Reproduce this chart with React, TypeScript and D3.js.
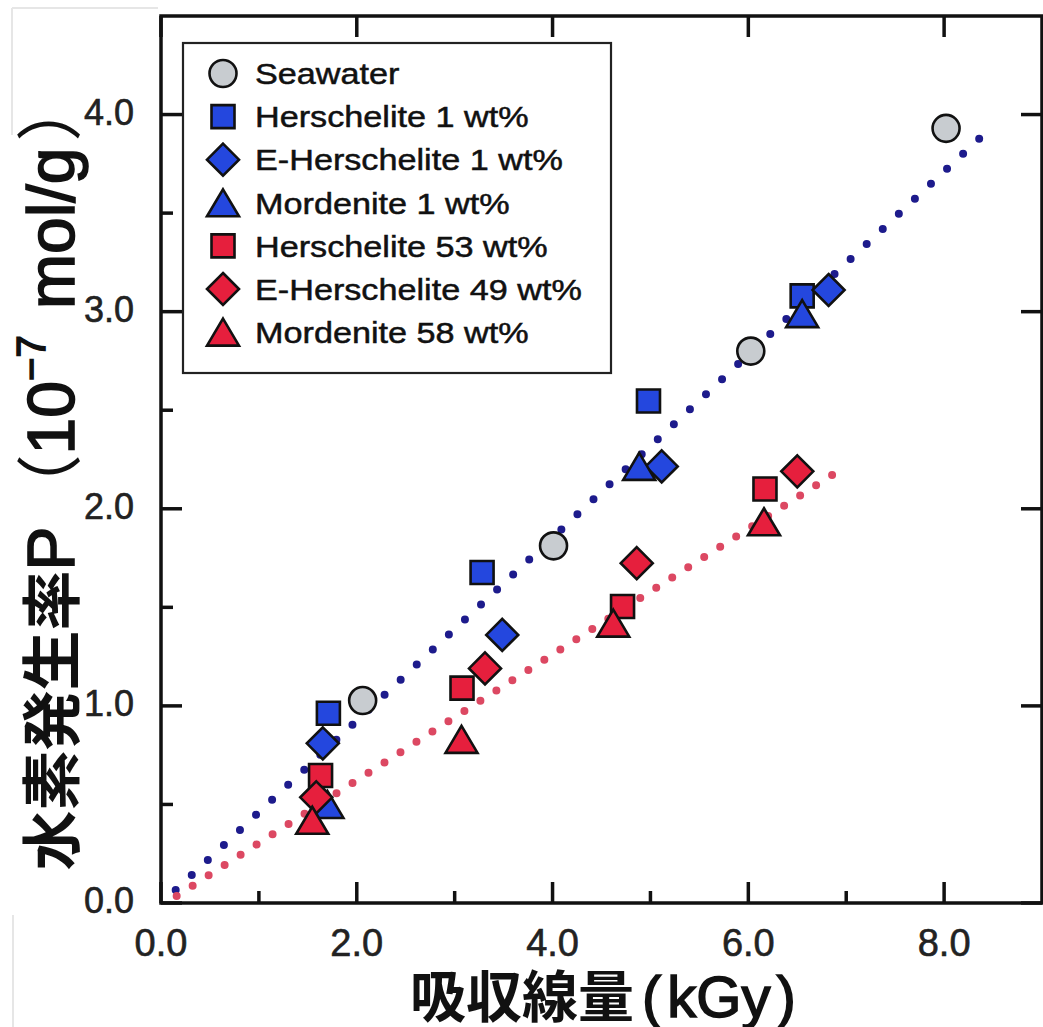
import React from 'react';
import * as d3 from 'd3';

const W = 1043;
const H = 1027;

// ---- data ----
const seawaterX = [2.06, 4.01, 6.025, 8.02];
const seawaterY = [1.027, 1.812, 2.8, 3.93];
const hersch1X = [1.71, 3.28, 4.98, 6.55];
const hersch1Y = [0.963, 1.677, 2.547, 3.08];
const eHersch1X = [1.653, 3.486, 5.115, 6.82];
const eHersch1Y = [0.81, 1.36, 2.215, 3.11];
const morden1X = [1.7, 4.885, 6.55];
const morden1Y = [0.5, 2.215, 2.99];
const hersch53X = [1.63, 3.075, 4.715, 6.17];
const hersch53Y = [0.647, 1.09, 1.504, 2.1];
const eHersch49X = [1.586, 3.31, 4.86, 6.5];
const eHersch49Y = [0.536, 1.19, 1.724, 2.19];
const morden58X = [1.545, 3.07, 4.62, 6.16];
const morden58Y = [0.42, 0.83, 1.42, 1.934];

const blueFitX = [0.15, 8.45];
const blueFitY = [0.066, 3.92];
const redFitX = [0.16, 7.0];
const redFitY = [0.036, 2.218];

const xMajor = [0, 2, 4, 6, 8];
const xMinor = [1, 3, 5, 7];
const yMajor = [0, 1, 2, 3, 4];
const yMinor = [0.5, 1.5, 2.5, 3.5];
const xTickLabels = ['0.0', '2.0', '4.0', '6.0', '8.0'];
const yTickLabels = ['0.0', '1.0', '2.0', '3.0', '4.0'];

const legendNames = [
  'Seawater',
  'Herschelite 1 wt%',
  'E-Herschelite 1 wt%',
  'Mordenite 1 wt%',
  'Herschelite 53 wt%',
  'E-Herschelite 49 wt%',
  'Mordenite 58 wt%',
];

const BLUE = '#2447de';
const RED = '#e61f3d';
const GRAY = '#c8ccd0';
const BLUE_DOT = '#1d1b8c';
const RED_DOT = '#dc4862';

type Shape = 'circle' | 'square' | 'diamond' | 'triangle';

const series: { xs: number[]; ys: number[]; shape: Shape; fill: string }[] = [
  { xs: seawaterX, ys: seawaterY, shape: 'circle', fill: GRAY },
  { xs: hersch1X, ys: hersch1Y, shape: 'square', fill: BLUE },
  { xs: eHersch1X, ys: eHersch1Y, shape: 'diamond', fill: BLUE },
  { xs: morden1X, ys: morden1Y, shape: 'triangle', fill: BLUE },
  { xs: hersch53X, ys: hersch53Y, shape: 'square', fill: RED },
  { xs: eHersch49X, ys: eHersch49Y, shape: 'diamond', fill: RED },
  { xs: morden58X, ys: morden58Y, shape: 'triangle', fill: RED },
];

function shapePath(shape: Shape, k = 1): string {
  if (shape === 'circle') {
    const p = d3.path();
    p.arc(0, 0, 13.5 * k, 0, Math.PI * 2);
    p.closePath();
    return p.toString();
  }
  if (shape === 'square') {
    const s = 11.5 * k;
    return `M${-s},${-s}H${s}V${s}H${-s}Z`;
  }
  if (shape === 'diamond') {
    const s = 16 * k;
    return `M0,${-s}L${s},0L0,${s}L${-s},0Z`;
  }
  const w = 16 * k;
  const h = 13.5 * k;
  return `M0,${-h}L${w},${h}L${-w},${h}Z`;
}

const FONT = "'Liberation Sans', Arial, Helvetica, sans-serif";
const CJK = "'Noto Sans CJK JP', 'Noto Sans CJK SC', sans-serif";

export default function App() {
  const x = d3.scaleLinear().domain([0, 9]).range([161, 1042]);
  const y = d3.scaleLinear().domain([0, 4.5]).range([903, 16]);
  const line = d3
    .line<[number, number]>()
    .x((d) => x(d[0]))
    .y((d) => y(d[1]));
  const blueFit = line(blueFitX.map((v, i) => [v, blueFitY[i]] as [number, number])) || '';
  const redFit = line(redFitX.map((v, i) => [v, redFitY[i]] as [number, number])) || '';

  const [x0, x1] = x.range();
  const [y0, y1] = y.range();
  const axisW = 3.5;
  const majorLen = 21;
  const minorLen = 12;

  const legendX = 223;
  const legendTextX = 255;
  const legendY0 = 73.5;
  const legendDy = 43.1;

  const latinTitle = { fontFamily: FONT, stroke: '#111', strokeWidth: 1.6 } as const;

  return (
    <svg
      width={W}
      height={H}
      viewBox={`0 0 ${W} ${H}`}
      style={{ position: 'absolute', left: 0, top: 0, background: '#fff' }}
    >
      <rect x={0} y={0} width={W} height={H} fill="#fff" />
      {/* faint scan borders */}
      <g stroke="#e6e6e6" strokeWidth={2} fill="none">
        <line x1={12} y1={8} x2={158} y2={8} />
        <line x1={12} y1={8} x2={12} y2={135} />
        <line x1={13} y1={915} x2={13} y2={1027} />
      </g>

      {/* fit lines */}
      <path d={blueFit} stroke={BLUE_DOT} strokeWidth={8} strokeLinecap="round" strokeDasharray="0 22" fill="none" />
      <path d={redFit} stroke={RED_DOT} strokeWidth={8} strokeLinecap="round" strokeDasharray="0 19" fill="none" />

      {/* markers */}
      {series.map((s, si) => (
        <g key={si}>
          {s.xs.map((xv, i) => (
            <path
              key={i}
              d={shapePath(s.shape)}
              transform={`translate(${x(xv)},${y(s.ys[i])})`}
              fill={s.fill}
              stroke="#111"
              strokeWidth={2.6}
              strokeLinejoin="miter"
            />
          ))}
        </g>
      ))}

      {/* frame */}
      <rect x={x0} y={y1} width={x1 - x0} height={y0 - y1} fill="none" stroke="#111" strokeWidth={axisW} />

      {/* ticks */}
      <g stroke="#111" strokeWidth={axisW}>
        {xMajor.map((v) => (
          <g key={'xm' + v}>
            <line x1={x(v)} x2={x(v)} y1={y0} y2={y0 - majorLen} />
            <line x1={x(v)} x2={x(v)} y1={y1} y2={y1 + majorLen} />
          </g>
        ))}
        {xMinor.map((v) => (
          <line key={'xn' + v} x1={x(v)} x2={x(v)} y1={y0} y2={y0 - minorLen} />
        ))}
        {yMajor.map((v) => (
          <g key={'ym' + v}>
            <line x1={x0} x2={x0 + majorLen} y1={y(v)} y2={y(v)} />
            <line x1={x1} x2={x1 - majorLen} y1={y(v)} y2={y(v)} />
          </g>
        ))}
        {yMinor.map((v) => (
          <line key={'yn' + v} x1={x0} x2={x0 + minorLen} y1={y(v)} y2={y(v)} />
        ))}
      </g>

      {/* tick labels */}
      <g fontFamily={FONT} fill="#222" stroke="#222" strokeWidth={0.6}>
        {xMajor.map((v, i) => (
          <text key={'xl' + v} x={x(v)} y={956} fontSize={38} textAnchor="middle">
            {xTickLabels[i]}
          </text>
        ))}
        {yMajor.map((v, i) => (
          <text key={'yl' + v} x={134} y={y(v) + 10} fontSize={36} textAnchor="end">
            {yTickLabels[i]}
          </text>
        ))}
      </g>

      {/* legend */}
      <rect x={183} y={43} width={428} height={330} fill="#fff" stroke="#222" strokeWidth={2.2} />
      {series.map((s, i) => {
        const ly = legendY0 + i * legendDy;
        return (
          <g key={'lg' + i}>
            <path
              d={shapePath(s.shape)}
              transform={`translate(${legendX},${ly})`}
              fill={s.fill}
              stroke="#111"
              strokeWidth={2.6}
            />
            <text
              transform={`translate(${legendTextX},${ly + 10.7}) scale(1.14,1)`}
              fontFamily={FONT}
              fontSize={30}
              fill="#111"
              stroke="#111"
              strokeWidth={0.5}
            >
              {legendNames[i]}
            </text>
          </g>
        );
      })}

      {/* x-axis title */}
      <text x={410} y={1017} fill="#111">
        <tspan fontFamily={CJK} fontSize={56} fontWeight={700}>吸収線量</tspan>
        <tspan {...latinTitle} fontSize={58} dx={8}>(</tspan>
        <tspan {...latinTitle} fontSize={58} dx={6}>kGy</tspan>
        <tspan {...latinTitle} fontSize={58} dx={6}>)</tspan>
      </text>

      {/* y-axis title */}
      <text transform="translate(74,473) rotate(-90)" textAnchor="middle" fill="#111">
        <tspan fontFamily={CJK} fontSize={60} fontWeight={700}>水素発生率</tspan>
        <tspan {...latinTitle} fontSize={66}>P</tspan>
        <tspan fontFamily={CJK} fontSize={66} dx={6}>（</tspan>
        <tspan {...latinTitle} fontSize={66}>10</tspan>
        <tspan {...latinTitle} fontSize={40} dy={-29}>−7</tspan>
        <tspan {...latinTitle} fontSize={66} dy={29} dx={8}> mol/g</tspan>
        <tspan fontFamily={CJK} fontSize={66} dx={6}>）</tspan>
      </text>
    </svg>
  );
}
